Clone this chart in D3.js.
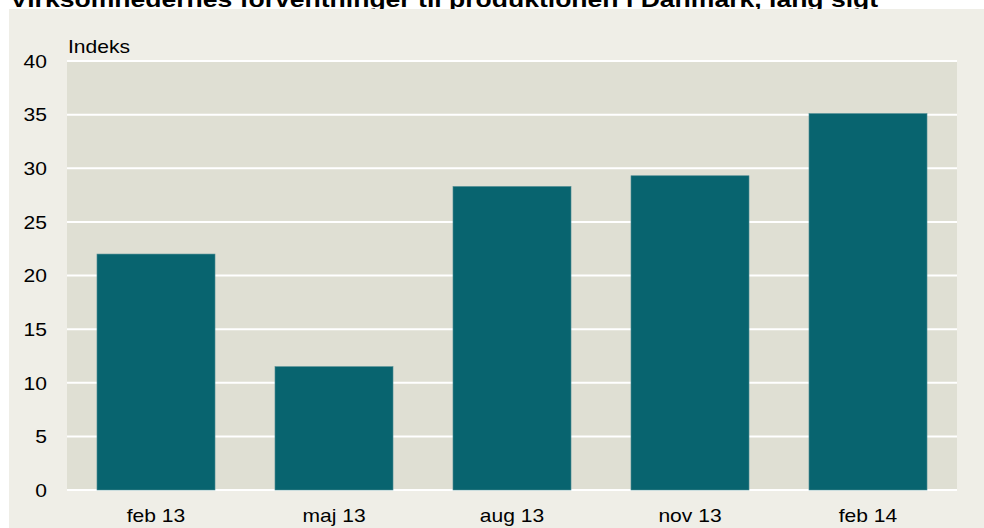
<!DOCTYPE html>
<html><head><meta charset="utf-8">
<script src="https://cdn.jsdelivr.net/npm/d3@7"></script>
<style>body{margin:0;background:#fff}svg{display:block}</style>
</head><body>
<script>
const categories = ["feb 13","maj 13","aug 13","nov 13","feb 14"];
const values = [22.0, 11.5, 28.3, 29.3, 35.1];
const yTicks = [0,5,10,15,20,25,30,35,40];
const title = "Virksomhedernes forventninger til produktionen i Danmark, lang sigt";
const unitLabel = "Indeks";

const W=984,H=528;
const sx=1.17;
const svg=d3.select("body").append("svg").attr("width",W).attr("height",H);
const font="Liberation Sans, Arial, sans-serif";
svg.append("text").attr("transform",`translate(10,7) scale(${sx},1)`).attr("font-family",font).attr("font-weight","bold").attr("font-size",22.7).text(title);
svg.append("rect").attr("x",9).attr("y",9).attr("width",W-9).attr("height",H-9).attr("fill","#efeee7");
const m={l:67,r:957,t:61,b:490};
svg.append("rect").attr("x",m.l).attr("y",m.t).attr("width",m.r-m.l).attr("height",m.b-m.t).attr("fill","#dfdfd3");
const x=d3.scaleBand().domain(categories).range([m.l,m.r]).paddingInner(0.337).paddingOuter(0.1685);
const y=d3.scaleLinear().domain([0,40]).range([m.b,m.t]);
svg.append("g").selectAll("line").data(yTicks).join("line")
 .attr("x1",m.l).attr("x2",m.r).attr("y1",d=>y(d)).attr("y2",d=>y(d))
 .attr("stroke","#ffffff").attr("stroke-width",2);
svg.append("g").selectAll("rect").data(values).join("rect")
 .attr("x",(d,i)=>x(categories[i])).attr("width",x.bandwidth())
 .attr("y",d=>y(d)).attr("height",d=>y(0)-y(d)).attr("fill","#08646f")
 .attr("stroke","#4f8c92").attr("stroke-width",0.6);
const yAxis=d3.axisLeft(y).tickValues(yTicks).tickSize(0).tickPadding(0);
const ga=svg.append("g").attr("transform",`translate(47,0)`).call(yAxis);
ga.select(".domain").remove();
ga.selectAll("text").attr("x",0).attr("font-family",font).attr("font-size",18).attr("fill","#000").attr("dy","0.35em").attr("transform",`scale(${sx},1)`);
const xAxis=d3.axisBottom(x).tickSize(0).tickPadding(0);
const gx=svg.append("g").attr("transform",`translate(0,${m.b+19})`).call(xAxis);
gx.select(".domain").remove();
gx.selectAll("text").attr("y",0).attr("font-family",font).attr("font-size",18).attr("fill","#000").attr("dy","0.71em").attr("transform",`scale(${sx},1)`);
svg.append("text").attr("transform",`translate(68,53) scale(${sx},1)`).attr("font-family",font).attr("font-size",18).text(unitLabel);
</script>
</body></html>
